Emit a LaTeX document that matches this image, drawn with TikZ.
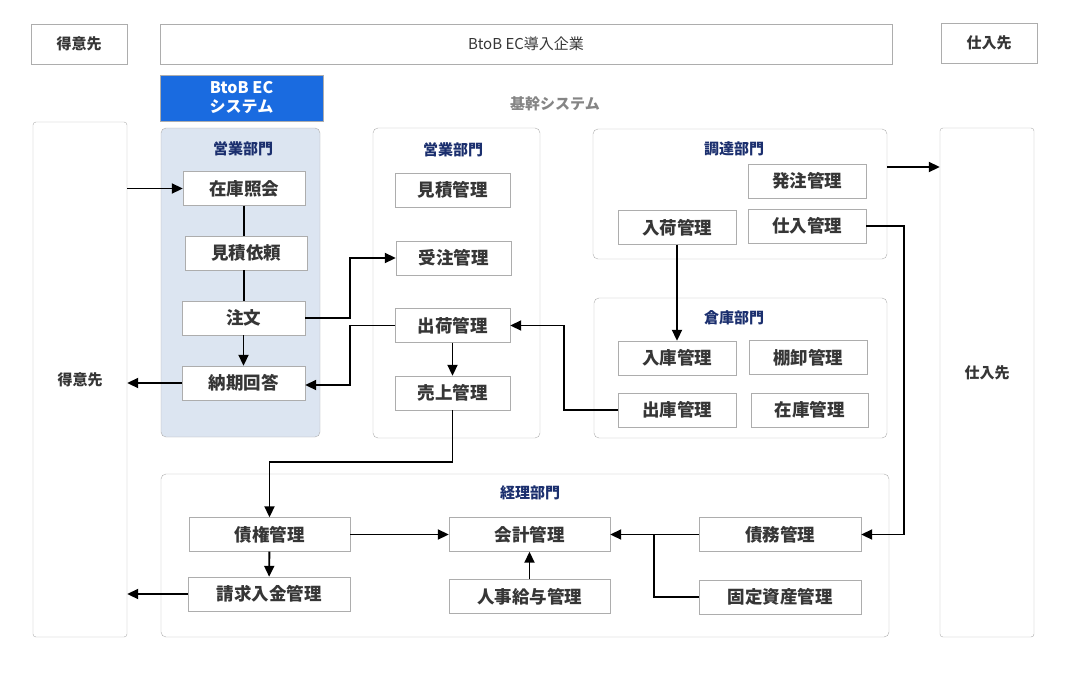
\documentclass[tikz,border=0pt]{standalone}
\usepackage{fontspec}
\setmainfont{Noto Sans CJK JP}
\usetikzlibrary{arrows.meta}

\definecolor{navy}{HTML}{1B2F6E}
\definecolor{ecblue}{HTML}{1A6BE0}
\definecolor{pale}{HTML}{DCE5F1}
\definecolor{frame}{HTML}{ADADAD}
\definecolor{ink}{HTML}{363636}
\definecolor{dim}{HTML}{858585}

\begin{document}
\begin{tikzpicture}[x=1pt, y=-1pt,
  box/.style={draw=frame, fill=white, text=ink, inner sep=0, minimum height=34pt,
    font=\bfseries\fontsize{17.5}{20}\selectfont},
  panel/.style={draw=frame, rounded corners=5pt, inner sep=0},
  head/.style={text=navy, font=\bfseries\fontsize{15}{18}\selectfont},
  top/.style={draw=frame, inner sep=0, minimum height=40pt, text=ink,
    font=\fontsize{15}{18}\selectfont},
  arr/.style={-{Triangle[length=11pt,width=10pt]}, line width=1.9pt},
  link/.style={line width=1.9pt}]
\useasboundingbox (0,0) rectangle (1088,675);

% header row
\node[top, minimum width=96pt, font=\bfseries\fontsize{15}{18}\selectfont] (tcust) at (79,44) {得意先};
\node[top, minimum width=732pt] (firm) at (526,44) {BtoB EC導入企業};
\node[top, minimum width=96pt, font=\bfseries\fontsize{15}{18}\selectfont] (tsupp) at (989,43) {仕入先};
\node[fill=ecblue, draw=frame, minimum width=163pt, minimum height=46pt, inner sep=0,
  text=white, align=center, font=\bfseries\fontsize{16}{19}\selectfont] (ecsys) at (241.5,98) {BtoB EC\\システム};
\node[text=dim, font=\bfseries\fontsize{15}{18}\selectfont] (core) at (555,104) {基幹システム};

% outside parties
\node[panel, rounded corners=3pt, minimum width=94pt, minimum height=515pt, text=ink,
  font=\bfseries\fontsize{15}{18}\selectfont] (cust) at (80,379.5) {得意先};
\node[panel, rounded corners=3pt, minimum width=94pt, minimum height=509pt, text=ink,
  font=\bfseries\fontsize{15}{18}\selectfont] (supp) at (987,382.5) {\raisebox{20pt}{仕入先}};

% departments
\node[panel, fill=pale, minimum width=159pt, minimum height=309pt] (p1) at (240.5,282.5) {};
\node[panel, minimum width=167pt, minimum height=310pt] (p2) at (456.5,283) {};
\node[panel, minimum width=294pt, minimum height=130pt] (p3) at (740,194) {};
\node[panel, minimum width=293pt, minimum height=140pt] (p4) at (740.5,368) {};
\node[panel, minimum width=728pt, minimum height=163pt] (p5) at (525,555.5) {};

\node[head] (h1) at (243,149) {営業部門};
\node[head] (h2) at (453,150) {営業部門};
\node[head] (h3) at (734,149) {調達部門};
\node[head] (h4) at (734,318) {倉庫部門};
\node[head] (h5) at (530,493) {経理部門};

% EC side
\node[box, minimum width=122pt] (stock) at (244,188.5) {在庫照会};
\node[box, minimum width=122pt] (quote) at (246,253) {見積依頼};
\node[box, minimum width=123pt] (order) at (243.5,318) {注文};
\node[box, minimum width=123pt] (reply) at (243.5,383) {納期回答};

% sales
\node[box, minimum width=115pt] (est) at (452.5,190) {見積管理};
\node[box, minimum width=115pt] (recv) at (453.5,258) {受注管理};
\node[box, minimum width=115pt] (ship) at (452.5,325.5) {出荷管理};
\node[box, minimum width=115pt] (sales) at (452.5,393) {売上管理};

% purchasing
\node[box, minimum width=118pt] (po) at (807,181) {発注管理};
\node[box, minimum width=118pt] (arrive) at (677,227.5) {入荷管理};
\node[box, minimum width=118pt] (buy) at (807,226) {仕入管理};

% warehouse
\node[box, minimum width=118pt] (in) at (677,358) {入庫管理};
\node[box, minimum width=118pt] (count) at (808,357.5) {棚卸管理};
\node[box, minimum width=118pt] (out) at (677,410) {出庫管理};
\node[box, minimum width=117pt] (inv) at (809.5,410) {在庫管理};

% accounting
\node[box, minimum width=161pt] (claim) at (269.5,534.5) {債権管理};
\node[box, minimum width=162pt] (bill) at (269,594) {請求入金管理};
\node[box, minimum width=161pt] (acct) at (529.5,534.5) {会計管理};
\node[box, minimum width=161pt] (hr) at (529.5,596.5) {人事給与管理};
\node[box, minimum width=162pt] (debt) at (780,534.5) {債務管理};
\node[box, minimum width=162pt] (fixed) at (780,597) {固定資産管理};

\coordinate (order-out) at (887,167);

% flows
\draw[arr] (cust.east |- stock.west) -- (stock.west);
\draw[link] (stock.south) -- (stock.south |- quote.north);
\draw[link] (stock.south |- quote.south) -- (stock.south |- order.north);
\draw[arr] (order) -- (reply);
\draw[arr] (reply.west) -- (cust.east |- reply.west);
\draw[arr] (order.east) -- ++(45,0) |- (recv.west);
\draw[arr] (ship.west) -- ++(-45,0) |- ([yshift=-2pt]reply.east);
\draw[arr] (ship) -- (sales);
\draw[arr] (out.west) -- ++(-54,0) |- (ship.east);
\draw[arr] (arrive) -- (in);
\draw[arr] (order-out) -- (order-out -| supp.west);
\draw[arr] (buy.east) -- ++(38,0) |- (debt.east);
\draw[arr] (sales.south) -- ++(0,52) -| (claim.north);
\draw[arr] (claim) -- (acct);
\draw[arr] (claim) -- (bill);
\draw[arr] (bill.west) -- (cust.east |- bill.west);
\draw[arr] (hr) -- (acct);
\draw[arr] (debt) -- (acct);
\draw[link] (fixed.west) -- ++(-45,0) |- (debt.west);

\end{tikzpicture}
\end{document}
